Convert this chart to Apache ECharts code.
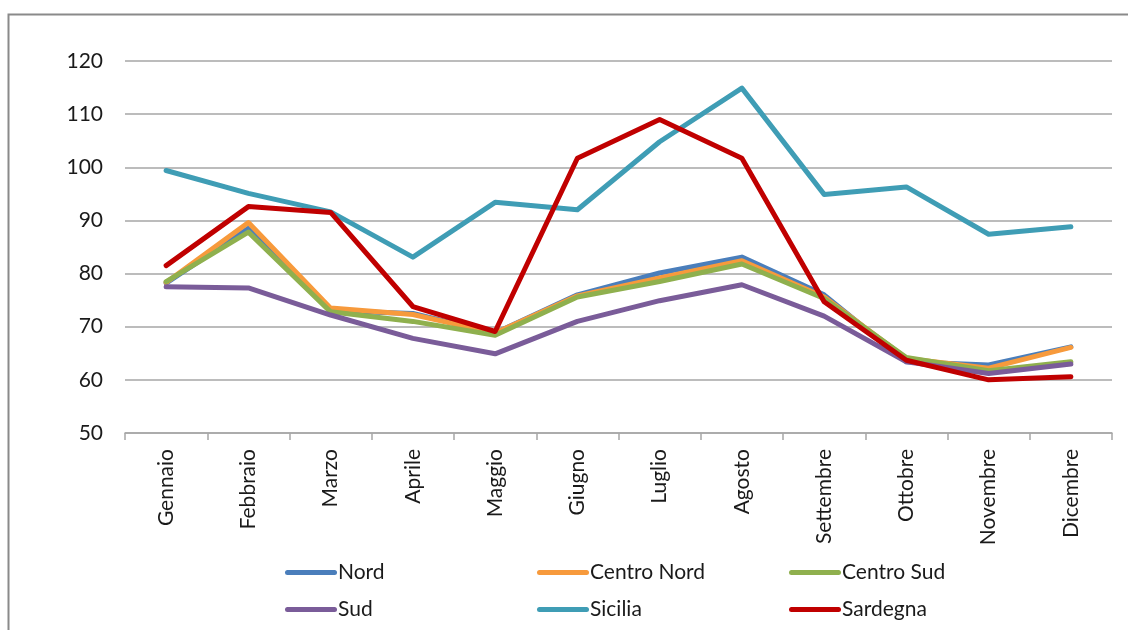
<!DOCTYPE html>
<html>
<head>
<meta charset="utf-8">
<script src="https://cdn.jsdelivr.net/npm/echarts@6/dist/echarts.min.js"></script>
<style>
  html, body { margin: 0; padding: 0; background: #fff; }
  #chart { width: 1128px; height: 630px; }
</style>
</head>
<body>
<div id="chart"></div>
<script>
const mesi = ['Gennaio', 'Febbraio', 'Marzo', 'Aprile', 'Maggio', 'Giugno', 'Luglio', 'Agosto', 'Settembre', 'Ottobre', 'Novembre', 'Dicembre']

const nord = [78.2, 88.5, 73.0, 72.5, 68.8, 76.0, 80.1, 83.1, 76.0, 63.4, 62.8, 66.2]
const centroNord = [78.3, 89.6, 73.5, 72.3, 68.8, 75.8, 79.2, 82.4, 75.6, 64.0, 62.2, 66.1]
const centroSud = [78.5, 87.8, 72.8, 71.0, 68.4, 75.6, 78.5, 81.8, 75.3, 64.2, 61.7, 63.4]
const sud = [77.5, 77.3, 72.2, 67.8, 64.9, 71.0, 74.9, 77.9, 72.0, 63.4, 61.2, 63.0]
const sicilia = [99.4, 95.1, 91.6, 83.1, 93.4, 92.0, 104.8, 114.9, 94.9, 96.3, 87.4, 88.8]
const sardegna = [81.5, 92.6, 91.5, 73.8, 69.1, 101.7, 109.0, 101.7, 74.7, 63.7, 60.0, 60.6]

const font = 'Lato, "Open Sans", sans-serif'

const linea = (name, data, color) => ({
  name,
  type: 'line',
  data,
  symbol: 'none',
  smooth: false,
  lineStyle: { color, width: 5, cap: 'round', join: 'round' },
  itemStyle: { color }
})

// linea con estremi arrotondati per il simbolo della legenda
const iconaLinea = 'path://M2.5,0H49.5A2.5,2.5,0,0,1,49.5,5H2.5A2.5,2.5,0,0,1,2.5,0Z'

const legenda = (left, data) => ({
  orient: 'vertical',
  left,
  top: 557,
  itemGap: 16,
  itemWidth: 52,
  itemHeight: 5,
  icon: iconaLinea,
  textStyle: { fontFamily: font, fontSize: 21, color: '#1a1a1a', padding: [0, 0, 0, -4] },
  data
})

const option = {
  animation: false,
  backgroundColor: '#fff',
  graphic: [
    { // cornice del grafico
      type: 'rect',
      shape: { x: 8.5, y: 14.5, width: 1200, height: 700 },
      style: { fill: 'none', stroke: '#8a8a8a', lineWidth: 2 },
      z: -1
    }
  ],
  grid: {
    left: 125,
    right: 16,
    top: 61,
    bottom: 197,
    containLabel: false
  },
  legend: [
    legenda(280, ['Nord', 'Sud']),
    legenda(532, ['Centro Nord', 'Sicilia']),
    legenda(784, ['Centro Sud', 'Sardegna'])
  ],
  xAxis: {
    type: 'category',
    data: mesi,
    boundaryGap: true,
    axisLine: { lineStyle: { color: '#a6a6a6', width: 1.5 } },
    axisTick: { show: true, length: 7, lineStyle: { color: '#a6a6a6', width: 1.5 } },
    axisLabel: {
      rotate: 90,
      interval: 0,
      margin: 16,
      fontFamily: font,
      fontSize: 21,
      color: '#1a1a1a'
    },
    splitLine: { show: false }
  },
  yAxis: {
    type: 'value',
    min: 50,
    max: 120,
    interval: 10,
    axisLine: { show: false },
    axisTick: { show: false },
    axisLabel: { fontFamily: font, fontSize: 21, color: '#1a1a1a', margin: 22 },
    splitLine: { show: true, lineStyle: { color: '#a6a6a6', width: 1.5 } }
  },
  series: [
    linea('Nord', nord, '#4a7ebb'),
    linea('Centro Nord', centroNord, '#f79a3c'),
    linea('Centro Sud', centroSud, '#8fb04e'),
    linea('Sud', sud, '#7a5c99'),
    linea('Sicilia', sicilia, '#3f9db5'),
    linea('Sardegna', sardegna, '#c00000')
  ]
}

const myChart = echarts.init(document.getElementById('chart'))
myChart.setOption(option)
</script>
</body>
</html>
